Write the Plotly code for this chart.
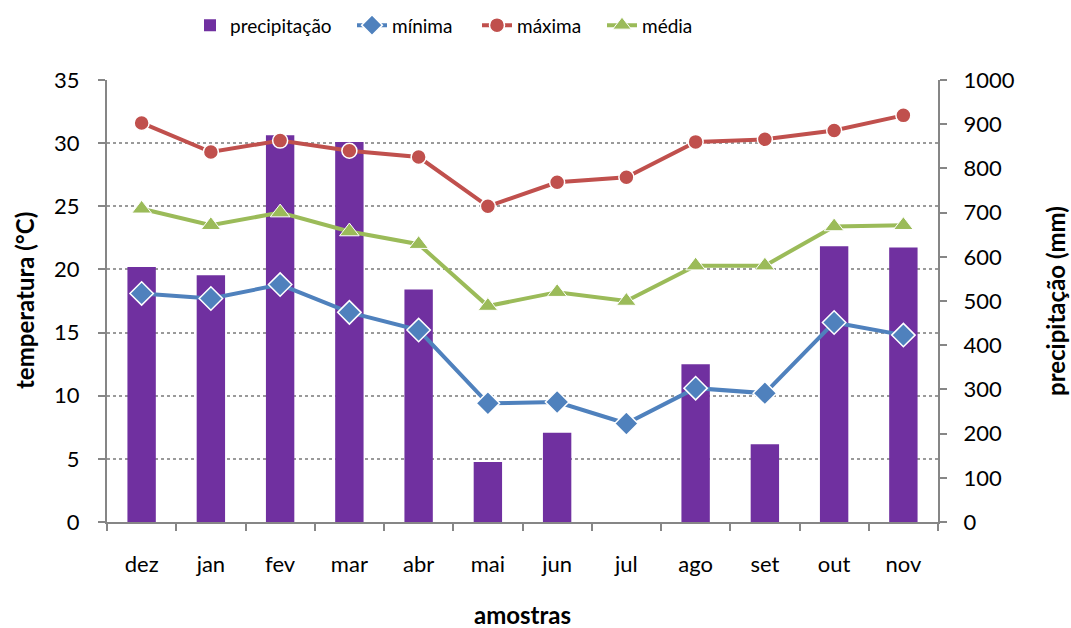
import plotly.graph_objects as go

# Monthly samples (Dec - Nov)
meses = ["dez", "jan", "fev", "mar", "abr", "mai", "jun", "jul", "ago", "set", "out", "nov"]
precipitacao = [577, 558, 875, 860, 526, 136, 202, 0, 357, 176, 624, 621]
minima = [18.1, 17.7, 18.8, 16.6, 15.2, 9.4, 9.5, 7.8, 10.6, 10.2, 15.8, 14.8]
maxima = [31.6, 29.3, 30.2, 29.4, 28.9, 25.0, 26.9, 27.3, 30.1, 30.3, 31.0, 32.2]
media = [24.8, 23.5, 24.5, 23.0, 22.0, 17.1, 18.2, 17.5, 20.3, 20.3, 23.4, 23.5]

# temperature gridlines (every 5 °C) expressed on the precipitation scale
TEMP_MAX = 35
PREC_MAX = 1000
temp_grid = list(range(5, TEMP_MAX + 1, 5))
grid_on_prec = [t * PREC_MAX / TEMP_MAX for t in temp_grid]

W, H = 1071, 628
M_L, M_R, M_T, M_B = 107, 133, 80, 106
PLOT_W = W - M_L - M_R
PLOT_H = H - M_T - M_B

FONT = "Lato, 'Open Sans', sans-serif"
AXIS_GREY = "#868686"
TITLE_FONT = dict(family=FONT, size=24, color="black")

fig = go.Figure()

fig.add_trace(go.Bar(
    x=meses, y=precipitacao, name="precipitação", yaxis="y", legend="legend",
    marker=dict(color="#7030A0", line=dict(width=0)),
    width=0.41,
))

line_style = dict(width=4)
fig.add_trace(go.Scatter(
    x=meses, y=minima, name="mínima", yaxis="y2", mode="lines+markers", legend="legend2",
    line=dict(color="#4F81BD", **line_style),
    marker=dict(symbol="diamond", size=18, color="#4F81BD", line=dict(color="white", width=1.5)),
))
fig.add_trace(go.Scatter(
    x=meses, y=maxima, name="máxima", yaxis="y2", mode="lines+markers", legend="legend3",
    line=dict(color="#C0504D", **line_style),
    marker=dict(symbol="circle", size=15, color="#C0504D", line=dict(color="white", width=1.5)),
))
fig.add_trace(go.Scatter(
    x=meses, y=media, name="média", yaxis="y2", mode="lines+markers", legend="legend4",
    line=dict(color="#9BBB59", **line_style),
    marker=dict(symbol="triangle-up", size=17, color="#9BBB59", line=dict(color="white", width=1)),
))


def legend_at(x_px):
    return dict(
        orientation="h", x=x_px / W, xanchor="left", xref="container",
        y=0.99, yanchor="top", yref="container",
        font=dict(size=19), bgcolor="rgba(0,0,0,0)",
    )


def axis_title(text, x_px, y_px, angle=0):
    # place an axis title at a pixel position, expressed in paper coordinates
    return dict(
        text=f"<b>{text}</b>", showarrow=False, font=TITLE_FONT, textangle=angle,
        xref="paper", yref="paper",
        x=(x_px - M_L) / PLOT_W, y=(H - M_B - y_px) / PLOT_H,
        xanchor="center", yanchor="middle",
    )


fig.update_layout(
    width=W, height=H,
    margin=dict(l=M_L, r=M_R, t=M_T, b=M_B),
    paper_bgcolor="white", plot_bgcolor="white",
    font=dict(family=FONT, size=22, color="black"),
    showlegend=True,
    legend=legend_at(190),
    legend2=legend_at(352),
    legend3=legend_at(477),
    legend4=legend_at(602),
    xaxis=dict(
        type="category", range=[-0.5, 11.5], automargin=False,
        showline=True, linecolor=AXIS_GREY, linewidth=2,
        ticks="outside", tickson="boundaries", ticklen=7, tickcolor=AXIS_GREY, tickwidth=2,
        ticklabelstandoff=22, showgrid=False,
    ),
    yaxis=dict(
        side="right", range=[0, PREC_MAX], dtick=100, showgrid=False, automargin=False,
        showline=True, linecolor=AXIS_GREY, linewidth=2, zeroline=False,
        ticks="outside", ticklen=7, tickcolor=AXIS_GREY, tickwidth=2,
        ticklabelstandoff=12,
        minor=dict(tickvals=grid_on_prec, showgrid=True, gridcolor="#9a9a9a",
                   griddash="dot", gridwidth=1.5, ticks=""),
    ),
    yaxis2=dict(
        overlaying="y", side="left", range=[0, TEMP_MAX], dtick=5,
        showgrid=False, automargin=False,
        showline=True, linecolor=AXIS_GREY, linewidth=2,
        ticks="outside", ticklen=7, tickcolor=AXIS_GREY, tickwidth=2,
        ticklabelstandoff=14, zeroline=False,
    ),
    annotations=[
        axis_title("amostras", 522, 614),
        axis_title("temperatura (°C)", 24, 301, angle=-90),
        axis_title("precipitação (mm)", 1055, 301, angle=-90),
    ],
)

fig.write_html("out.html")
